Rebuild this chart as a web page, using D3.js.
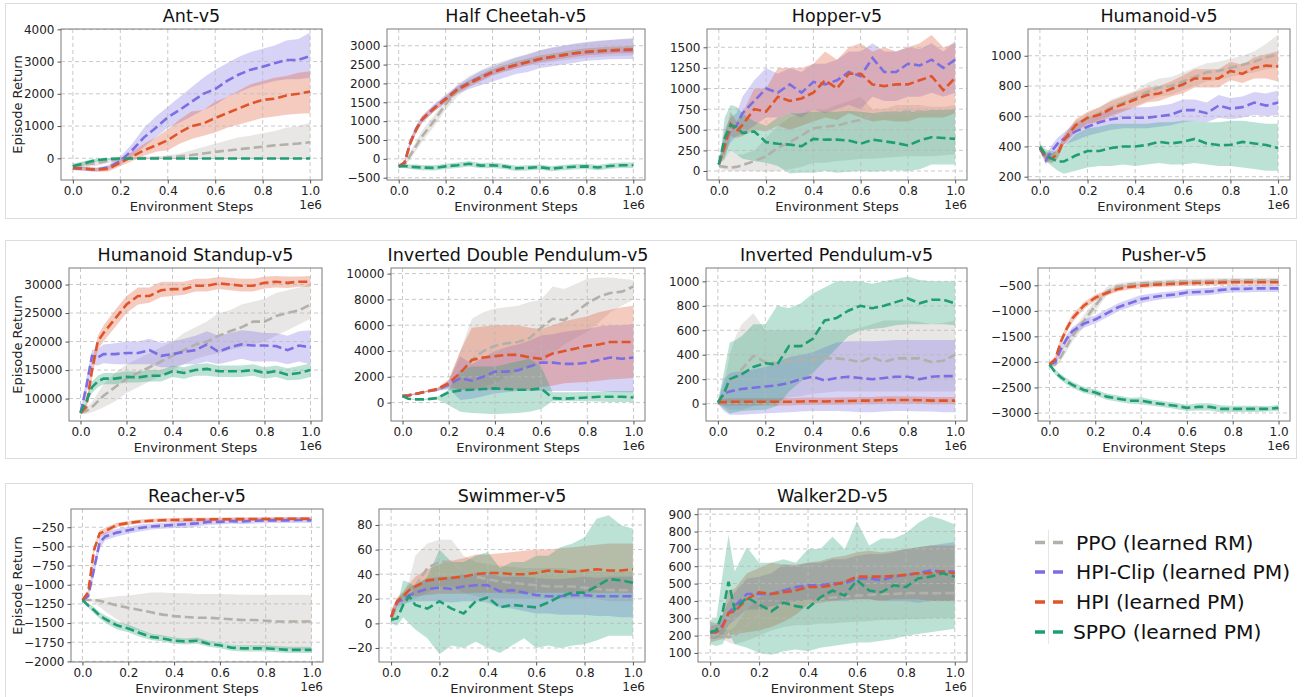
<!DOCTYPE html>
<html><head><meta charset="utf-8">
<script src="https://cdn.jsdelivr.net/npm/d3@7"></script>
<style>body{margin:0;background:#fff}svg{display:block}text{font-family:"DejaVu Sans",sans-serif}</style>
</head><body><svg id="c" width="1304" height="697"></svg>
<script>
// ---------- shared ----------
const STEPS = [0,0.025,0.05,0.075,0.1,0.15,0.2,0.25,0.3,0.35,0.4,0.45,0.5,0.55,0.6,0.65,0.7,0.75,0.8,0.85,0.9,0.95,1.0]; // x 1e6
const SERIES = ["PPO (learned RM)","HPI-Clip (learned PM)","HPI (learned PM)","SPPO (learned PM)"];
const TITLES = ["Ant-v5","Half Cheetah-v5","Hopper-v5","Humanoid-v5","Humanoid Standup-v5","Inverted Double Pendulum-v5","Inverted Pendulum-v5","Pusher-v5","Reacher-v5","Swimmer-v5","Walker2D-v5"];
const X_TICKS = [0,0.2,0.4,0.6,0.8,1.0];
const Y_TICKS = [
  [0,1000,2000,3000,4000],
  [-500,0,500,1000,1500,2000,2500,3000],
  [0,250,500,750,1000,1250,1500],
  [200,400,600,800,1000],
  [10000,15000,20000,25000,30000],
  [0,2000,4000,6000,8000,10000],
  [0,200,400,600,800,1000],
  [-3000,-2500,-2000,-1500,-1000,-500],
  [-2000,-1750,-1500,-1250,-1000,-750,-500,-250],
  [-20,0,20,40,60,80],
  [100,200,300,400,500,600,700,800,900]
];
const Y_DOMAINS = [[-673,4010],[-561,3443],[-109,1722],[178,1177],[6070,32900],[-1426,10434],[-142,1109],[-3157,-161],[-2008,-12],[-31.4,93],[48,930]];

// ---------- Ant ----------
const ant_ppo_m  = [-250,-230,-200,-170,-150,-80,-20,0,5,10,30,60,100,150,200,240,280,320,360,400,430,460,500];
const ant_ppo_lo = [-350,-320,-290,-260,-230,-150,-70,-40,-30,-30,-20,-20,-20,-20,-20,-20,-20,-20,-20,-20,-20,-20,-20];
const ant_ppo_hi = [-150,-130,-110,-90,-70,-10,30,40,50,60,90,150,250,350,450,550,650,700,780,850,950,1000,1100];
const ant_clip_m  = [-300,-320,-330,-340,-350,-280,-80,250,650,950,1270,1500,1750,2000,2150,2400,2600,2750,2840,2950,3050,3050,3170];
const ant_clip_lo = [-370,-380,-390,-400,-410,-350,-200,50,350,650,950,1100,1300,1500,1650,1900,2050,2200,2300,2400,2450,2450,2500];
const ant_clip_hi = [-230,-250,-270,-280,-290,-210,50,450,950,1300,1600,1900,2200,2500,2750,2950,3150,3300,3400,3500,3650,3700,3900];
const ant_hpi_m  = [-300,-310,-320,-340,-350,-330,-130,50,250,400,560,800,1000,1080,1250,1400,1550,1700,1810,1850,1950,2000,2070];
const ant_hpi_lo = [-360,-370,-380,-400,-420,-410,-250,-80,80,200,250,450,600,700,800,950,1050,1150,1250,1300,1350,1380,1400];
const ant_hpi_hi = [-240,-250,-260,-280,-290,-250,0,200,450,650,900,1200,1450,1500,1750,1900,2100,2300,2400,2500,2550,2650,2700];
const ant_sppo_m  = [-250,-200,-150,-100,-60,-20,-5,-5,-5,-5,-5,-5,-5,-5,-5,-5,-5,-5,-5,-5,-5,-5,-5];
const ant_sppo_lo = [-320,-270,-220,-160,-110,-50,-25,-20,-20,-20,-20,-20,-20,-20,-20,-20,-20,-20,-20,-20,-20,-20,-20];
const ant_sppo_hi = [-180,-130,-80,-40,-10,10,15,10,10,10,10,10,10,10,10,10,10,10,10,10,10,10,10];

// ---------- Half Cheetah ----------
const hc_ppo_m  = [-200,-150,100,350,600,1000,1450,1800,2050,2200,2350,2450,2550,2620,2700,2750,2800,2850,2880,2900,2920,2940,2950];
const hc_ppo_lo = [-230,-200,0,220,450,850,1300,1650,1900,2050,2200,2300,2400,2470,2530,2570,2610,2650,2680,2700,2720,2730,2740];
const hc_ppo_hi = [-170,-100,200,480,750,1150,1600,1950,2200,2350,2500,2600,2700,2780,2870,2930,2990,3040,3080,3120,3150,3180,3220];
const hc_clip_m  = [-200,-100,450,800,1050,1350,1600,1850,2020,2170,2300,2400,2490,2570,2640,2700,2750,2800,2830,2850,2870,2880,2890];
const hc_clip_lo = [-220,-150,350,700,950,1250,1500,1720,1850,1950,2050,2150,2250,2300,2400,2450,2500,2550,2600,2620,2640,2650,2650];
const hc_clip_hi = [-180,-50,550,900,1150,1450,1700,1950,2150,2330,2450,2570,2680,2770,2870,2950,3000,3060,3100,3130,3150,3170,3180];
const hc_hpi_m  = [-200,-100,430,780,1050,1330,1580,1830,2000,2150,2300,2400,2490,2570,2650,2700,2750,2800,2840,2860,2880,2890,2900];
const hc_hpi_lo = [-220,-140,350,700,970,1250,1500,1750,1920,2070,2220,2320,2400,2480,2560,2610,2660,2710,2750,2770,2790,2800,2800];
const hc_hpi_hi = [-180,-60,510,860,1130,1410,1660,1910,2080,2230,2380,2480,2580,2660,2740,2790,2840,2890,2930,2950,2970,2980,3000];
const hc_sppo_m  = [-200,-190,-210,-220,-230,-240,-200,-170,-130,-180,-170,-200,-250,-240,-220,-260,-230,-210,-200,-230,-190,-170,-170];
const hc_sppo_lo = [-240,-240,-270,-290,-300,-310,-270,-240,-200,-250,-240,-270,-320,-310,-290,-330,-300,-280,-270,-300,-260,-240,-240];
const hc_sppo_hi = [-160,-140,-150,-150,-160,-170,-130,-100,-60,-110,-100,-130,-180,-170,-150,-190,-160,-140,-130,-160,-120,-100,-100];

// ---------- Hopper ----------
const hop_ppo_m  = [60,50,40,50,70,120,180,280,350,430,520,540,550,590,620,680,700,710,720,720,720,710,720];
const hop_ppo_lo = [30,10,0,0,0,0,-10,0,20,50,100,100,120,130,150,150,160,170,180,180,180,190,200];
const hop_ppo_hi = [90,150,250,200,200,250,400,550,650,700,750,750,800,850,900,750,750,800,800,800,780,780,800];
const hop_clip_m  = [80,350,500,550,700,850,1000,950,1050,950,1080,1050,1100,1200,1150,1370,1200,1200,1300,1280,1350,1250,1350];
const hop_clip_lo = [80,200,350,420,450,550,650,650,700,650,750,700,750,800,750,900,850,850,900,900,950,900,950];
const hop_clip_hi = [80,500,650,700,900,1100,1250,1180,1250,1200,1300,1300,1350,1450,1450,1550,1450,1450,1500,1480,1550,1450,1580];
const hop_hpi_m  = [80,300,570,480,560,750,720,900,850,880,950,1100,1000,1180,1180,1050,1030,1050,1050,1100,1150,980,1130];
const hop_hpi_lo = [80,150,420,400,420,500,480,550,500,550,600,650,620,700,650,600,620,600,600,650,650,650,700];
const hop_hpi_hi = [80,450,720,600,700,1000,1000,1250,1250,1250,1300,1450,1350,1500,1550,1450,1500,1450,1500,1550,1650,1500,1550];
const hop_sppo_m  = [80,400,560,530,460,480,350,330,320,300,390,380,380,370,330,380,360,340,310,370,410,400,390];
const hop_sppo_lo = [80,150,250,200,150,120,100,60,-30,-20,-20,0,-20,-10,0,-10,0,10,0,20,80,80,80];
const hop_sppo_hi = [80,650,800,780,700,600,550,650,700,700,720,720,720,730,720,700,720,720,720,720,740,740,750];

// ---------- Humanoid ----------
const hum_ppo_m  = [390,340,320,360,440,530,580,620,660,690,720,760,790,800,830,860,890,900,920,940,960,990,1010];
const hum_ppo_lo = [370,310,290,330,410,490,540,580,610,640,670,700,730,740,770,800,830,840,860,880,890,910,920];
const hum_ppo_hi = [410,370,350,390,470,570,620,660,710,740,770,820,850,860,890,920,950,960,980,1000,1030,1080,1140];
const hum_clip_m  = [390,310,370,420,450,500,530,560,580,590,590,590,600,610,640,640,620,670,650,660,690,670,690];
const hum_clip_lo = [370,280,330,380,410,440,470,490,510,520,520,520,530,540,560,570,560,590,580,590,610,600,610];
const hum_clip_hi = [410,340,410,460,490,560,590,620,640,650,660,660,670,680,710,710,690,740,720,730,760,750,770];
const hum_hpi_m  = [390,330,320,350,440,540,590,610,650,680,710,740,750,780,810,850,850,850,900,880,920,935,930];
const hum_hpi_lo = [370,300,290,320,410,500,550,560,600,630,660,690,700,730,750,790,790,790,840,820,850,850,830];
const hum_hpi_hi = [410,360,350,380,470,580,630,660,700,730,760,790,800,830,870,910,910,910,960,940,990,1010,1030];
const hum_sppo_m  = [400,340,320,300,300,340,370,370,390,400,400,410,430,420,430,450,420,410,410,430,420,410,390];
const hum_sppo_lo = [380,300,270,240,220,240,260,270,270,280,270,280,290,280,280,290,280,270,270,260,250,240,240];
const hum_sppo_hi = [420,380,370,360,400,480,520,530,550,550,550,550,560,560,570,570,560,560,570,570,560,550,550];

// ---------- Humanoid Standup ----------
const hs_ppo_m  = [7500,7800,8500,9500,10500,12000,13500,14500,15500,16500,17500,18500,19500,20000,21000,21800,22500,23500,23500,24500,25000,25500,26500];
const hs_ppo_lo = [7200,7300,7600,8000,8500,9500,11000,12000,13000,14000,15000,16000,17000,17500,18000,18500,19000,19500,20000,21000,22000,23000,24000];
const hs_ppo_hi = [7800,8300,9400,11000,12500,14500,16000,17000,18000,19000,20000,21500,22500,23500,25000,25500,26500,27000,27500,28500,29000,29500,30000];
const hs_clip_m  = [7500,12000,17500,17200,17800,17800,18000,18000,18500,17500,17800,18200,18500,19500,18200,19000,19500,19300,19300,19200,18500,19300,19000];
const hs_clip_lo = [7300,10500,16000,15800,16200,16000,16000,16000,16000,15500,15500,16000,16000,16500,16000,16500,17000,16500,16500,16500,16000,16500,16000];
const hs_clip_hi = [7700,13500,18500,18700,19500,19700,20000,20000,20500,19800,20000,20500,21000,21800,21000,21500,22000,21800,21500,21500,21000,21800,22000];
const hs_hpi_m  = [7500,8500,15000,20000,21500,24000,26500,28000,28000,29000,29200,29200,29800,29800,30200,30000,29800,29800,30300,30500,30300,30500,30500];
const hs_hpi_lo = [7300,8000,13500,18500,20000,22500,25000,26500,26800,27800,28000,28200,28800,28800,29200,29000,28800,28800,29300,29500,29400,29600,29600];
const hs_hpi_hi = [7700,9000,16500,21000,22800,25500,28000,29500,29500,30500,30500,30500,31000,31000,31300,31200,31000,31000,31400,31500,31400,31400,31500];
const hs_sppo_m  = [7500,9500,12000,13000,13500,13500,13800,13700,14000,14000,14800,14500,15000,15200,14800,14800,14800,15000,14500,14800,14200,14500,15000];
const hs_sppo_lo = [7300,8800,11000,12000,12500,12500,12800,12800,13000,13000,13800,13500,14000,14000,13800,13800,13800,14000,13500,13800,13200,13300,13800];
const hs_sppo_hi = [7700,10200,13000,14000,14500,14500,14800,14700,15000,15000,15800,15500,16000,16200,15800,15800,15800,16000,15500,15800,15300,15700,16200];

// ---------- Inverted Double Pendulum ----------
const idp_ppo_m  = [500,560,650,750,850,1000,1300,2200,3300,4000,4400,4600,4700,5000,5800,6500,6400,7000,7700,8200,8500,8600,9000];
const idp_ppo_lo = [450,520,600,700,800,900,1000,1000,1000,1200,1500,2000,2500,2800,3000,3800,4500,5000,5500,6200,7000,7500,8000];
const idp_ppo_hi = [550,600,700,800,900,1100,1600,4000,6500,7000,7300,7400,7500,7800,8000,9000,8800,9200,9600,9700,9700,9600,9500];
const idp_clip_m  = [500,560,650,750,850,1000,1400,1900,1700,2000,2400,2400,2500,2800,3100,3100,3000,3000,3100,3300,3500,3400,3500];
const idp_clip_lo = [450,520,600,700,800,900,1100,200,300,500,700,800,900,900,900,900,900,900,900,900,850,800,800];
const idp_clip_hi = [550,600,700,800,900,1100,1700,3600,3000,3500,4000,4300,4500,4800,5200,5300,5500,5600,5700,5900,6000,6000,6100];
const idp_hpi_m  = [500,550,650,750,850,1050,1500,2300,3300,3500,3600,3700,3700,3500,3400,3800,4000,4200,4400,4500,4700,4700,4700];
const idp_hpi_lo = [450,510,600,700,800,950,1200,1000,1000,1000,1000,1000,1000,1000,1200,1300,1500,1550,1600,1700,1800,1850,1900];
const idp_hpi_hi = [550,590,700,800,900,1150,1800,4000,5800,5900,6000,6000,6000,5800,5700,6000,6300,6500,6700,7000,7200,7400,7500];
const idp_sppo_m  = [500,300,250,250,250,350,800,950,1000,1050,1100,1050,1000,1000,1100,350,300,350,400,450,450,450,400];
const idp_sppo_lo = [450,250,200,200,200,250,-200,-700,-800,-850,-900,-850,-800,-700,-500,100,100,100,100,80,50,50,50];
const idp_sppo_hi = [550,350,300,300,300,450,1000,2500,2800,2800,2800,3000,3200,3400,2800,800,800,800,850,870,900,900,900];

// ---------- Inverted Pendulum ----------
const ip_ppo_m  = [10,60,150,220,280,390,340,330,350,360,360,370,370,360,340,380,340,370,370,370,340,350,400];
const ip_ppo_lo = [0,-20,-50,-50,-50,-20,0,20,50,60,80,90,100,100,100,100,100,100,100,100,100,100,100];
const ip_ppo_hi = [20,150,400,550,650,740,600,600,600,600,600,600,600,600,620,650,680,680,680,670,650,660,680];
const ip_clip_m  = [10,80,100,110,120,130,140,150,170,200,220,190,210,220,210,200,210,220,220,200,220,225,225];
const ip_clip_lo = [0,-60,-90,-90,-90,-85,-80,-75,-70,-65,-60,-60,-60,-65,-70,-70,-65,-60,-60,-65,-65,-70,-70];
const ip_clip_hi = [20,200,250,260,260,280,300,340,380,400,420,460,500,510,510,510,515,520,520,520,520,520,520];
const ip_hpi_m  = [10,12,15,15,15,15,15,15,15,18,20,18,20,22,25,25,30,30,30,28,25,25,25];
const ip_hpi_lo = [-10,-15,-15,-15,-15,-15,-15,-15,-15,-12,-10,-10,-10,-8,-5,-5,0,0,0,0,-5,-5,-5];
const ip_hpi_hi = [30,40,45,45,45,45,45,45,45,48,50,48,50,52,55,55,60,60,60,58,55,55,55];
const ip_sppo_m  = [10,80,200,220,240,300,330,320,470,470,530,680,700,760,800,780,800,830,860,820,850,850,820];
const ip_sppo_lo = [0,-40,-80,-70,-60,-55,-50,-20,100,180,250,350,450,550,600,610,620,640,650,650,650,650,640];
const ip_sppo_hi = [20,250,500,520,550,650,650,800,780,820,900,950,1000,1000,1000,980,1000,1020,1040,1010,1000,1000,1000];

// ---------- Pusher ----------
const pu_ppo_m  = [-2050,-2050,-1900,-1700,-1500,-1200,-900,-620,-520,-480,-460,-450,-440,-430,-425,-420,-415,-410,-405,-405,-400,-400,-400];
const pu_ppo_lo = [-2100,-2100,-1980,-1800,-1600,-1320,-1010,-700,-580,-530,-510,-500,-490,-480,-475,-470,-465,-460,-455,-455,-450,-450,-450];
const pu_ppo_hi = [-2000,-2000,-1820,-1600,-1400,-1080,-790,-540,-460,-430,-410,-400,-390,-380,-375,-370,-365,-360,-355,-355,-350,-350,-350];
const pu_clip_m  = [-2050,-2000,-1750,-1550,-1400,-1250,-1170,-1050,-930,-850,-770,-730,-700,-680,-640,-630,-620,-590,-570,-570,-560,-560,-560];
const pu_clip_lo = [-2100,-2060,-1830,-1630,-1480,-1330,-1250,-1130,-1010,-930,-850,-800,-770,-750,-710,-700,-690,-660,-640,-640,-630,-630,-630];
const pu_clip_hi = [-2000,-1940,-1670,-1470,-1320,-1170,-1090,-970,-850,-770,-690,-660,-630,-610,-570,-560,-550,-520,-500,-500,-490,-490,-490];
const pu_hpi_m  = [-2050,-1950,-1600,-1350,-1150,-900,-740,-650,-570,-530,-510,-490,-480,-470,-460,-455,-450,-445,-440,-440,-440,-440,-440];
const pu_hpi_lo = [-2100,-2010,-1680,-1430,-1230,-970,-800,-700,-620,-580,-560,-540,-530,-520,-510,-505,-500,-495,-490,-490,-490,-490,-490];
const pu_hpi_hi = [-2000,-1890,-1520,-1270,-1070,-830,-680,-600,-520,-480,-460,-440,-430,-420,-410,-405,-400,-395,-390,-390,-390,-390,-390];
const pu_sppo_m  = [-2050,-2200,-2300,-2380,-2450,-2550,-2600,-2680,-2720,-2760,-2760,-2800,-2830,-2860,-2900,-2880,-2880,-2920,-2920,-2920,-2920,-2920,-2900];
const pu_sppo_lo = [-2080,-2250,-2360,-2440,-2510,-2610,-2660,-2740,-2780,-2820,-2830,-2860,-2890,-2920,-2960,-2950,-2950,-2990,-2980,-2980,-2980,-2970,-2960];
const pu_sppo_hi = [-2020,-2150,-2240,-2320,-2390,-2490,-2540,-2620,-2660,-2700,-2690,-2740,-2770,-2800,-2840,-2810,-2810,-2850,-2860,-2860,-2860,-2870,-2840];

// ---------- Reacher ----------
const re_ppo_m  = [-1200,-1200,-1200,-1210,-1230,-1270,-1300,-1330,-1360,-1390,-1410,-1420,-1430,-1430,-1440,-1450,-1460,-1460,-1470,-1480,-1480,-1480,-1480];
const re_ppo_lo = [-1200,-1210,-1230,-1290,-1350,-1450,-1550,-1600,-1650,-1680,-1700,-1720,-1730,-1740,-1750,-1780,-1800,-1810,-1830,-1840,-1840,-1850,-1850];
const re_ppo_hi = [-1200,-1190,-1185,-1180,-1170,-1150,-1140,-1120,-1100,-1100,-1110,-1110,-1120,-1120,-1120,-1125,-1130,-1130,-1130,-1130,-1130,-1130,-1130];
const re_clip_m  = [-1200,-1150,-800,-450,-370,-320,-290,-260,-240,-230,-220,-210,-200,-180,-180,-170,-175,-165,-160,-160,-160,-155,-160];
const re_clip_lo = [-1200,-1180,-880,-530,-420,-370,-335,-305,-280,-270,-260,-260,-240,-220,-215,-205,-210,-200,-195,-195,-195,-190,-195];
const re_clip_hi = [-1200,-1120,-720,-370,-320,-270,-245,-215,-200,-190,-180,-160,-160,-140,-145,-135,-140,-130,-125,-125,-125,-120,-125];
const re_hpi_m  = [-1200,-1100,-550,-330,-300,-220,-195,-175,-165,-158,-155,-152,-150,-148,-146,-145,-144,-143,-142,-141,-140,-140,-138];
const re_hpi_lo = [-1200,-1130,-600,-370,-340,-250,-220,-200,-190,-183,-180,-177,-175,-172,-170,-169,-168,-167,-166,-165,-164,-163,-162];
const re_hpi_hi = [-1200,-1070,-500,-290,-260,-190,-170,-150,-140,-133,-130,-127,-125,-124,-122,-121,-120,-119,-118,-117,-116,-116,-114];
const re_sppo_m  = [-1200,-1270,-1330,-1400,-1450,-1530,-1570,-1630,-1680,-1700,-1730,-1740,-1730,-1770,-1790,-1820,-1830,-1830,-1830,-1840,-1850,-1850,-1850];
const re_sppo_lo = [-1200,-1300,-1370,-1440,-1500,-1580,-1620,-1680,-1720,-1740,-1770,-1780,-1770,-1810,-1830,-1860,-1870,-1870,-1870,-1880,-1890,-1890,-1890];
const re_sppo_hi = [-1200,-1240,-1290,-1360,-1400,-1480,-1520,-1580,-1640,-1660,-1690,-1700,-1690,-1730,-1750,-1780,-1790,-1790,-1790,-1800,-1810,-1810,-1810];

// ---------- Swimmer ----------
const sw_ppo_m  = [5,15,20,25,30,45,50,50,42,38,36,34,33,32,31,30,30,30,29,28,27,27,27];
const sw_ppo_lo = [0,10,15,18,20,25,30,30,25,22,20,20,20,20,20,20,20,20,20,20,18,18,18];
const sw_ppo_hi = [10,20,25,35,55,65,68,68,55,50,48,47,46,45,45,45,45,44,43,42,42,42,42];
const sw_clip_m  = [5,17,20,23,25,28,29,28,30,31,31,26,27,25,23,22,22,23,23,22,22,22,22];
const sw_clip_lo = [0,14,16,17,18,18,18,17,18,18,17,13,12,10,8,8,7,7,7,6,6,5,5];
const sw_clip_hi = [10,20,24,29,32,36,38,38,40,41,42,38,38,38,37,36,36,37,38,37,38,38,38];
const sw_hpi_m  = [5,18,22,27,30,35,36,37,38,40,41,41,40,40,41,43,42,42,43,44,43,43,44];
const sw_hpi_lo = [0,15,18,22,22,23,24,24,24,25,25,25,24,24,25,25,25,25,25,25,25,25,25];
const sw_hpi_hi = [10,21,26,32,38,44,48,51,53,56,56,57,58,59,60,60,61,62,63,64,65,65,65];
const sw_sppo_m  = [3,4,15,22,15,12,18,12,8,18,21,13,15,14,13,17,22,25,25,30,36,35,33];
const sw_sppo_lo = [0,-2,5,0,-5,-12,-25,-18,-20,-15,-20,-24,-18,-12,-20,-18,-20,-18,-17,-14,-10,-10,-10];
const sw_sppo_hi = [6,15,35,33,30,38,60,50,50,55,58,45,50,50,55,55,62,65,70,85,88,80,77];

// ---------- Walker2D ----------
const wk_ppo_m  = [220,210,200,190,200,260,330,360,380,390,400,410,420,425,430,435,440,440,445,445,445,445,445];
const wk_ppo_lo = [220,200,180,160,150,170,200,230,250,260,260,270,270,275,280,285,290,290,295,295,300,300,300];
const wk_ppo_hi = [230,240,240,230,250,350,420,450,470,480,490,500,510,520,530,540,550,550,560,560,560,560,560];
const wk_clip_m  = [220,220,260,330,370,440,440,440,460,480,490,490,500,500,530,530,520,540,550,560,575,570,570];
const wk_clip_lo = [180,180,200,260,290,350,350,370,380,400,400,400,400,400,410,410,400,400,400,390,400,400,400];
const wk_clip_hi = [260,260,320,400,450,530,540,560,610,600,620,620,640,640,660,670,670,680,700,710,720,730,740];
const wk_hpi_m  = [220,220,250,330,340,410,450,440,450,460,480,480,490,510,540,540,540,545,550,560,560,570,560];
const wk_hpi_lo = [160,170,180,200,210,220,230,250,280,320,380,390,400,410,410,410,400,410,410,410,400,400,400];
const wk_hpi_hi = [280,270,320,460,470,560,590,620,610,610,620,630,650,660,680,690,680,690,700,710,720,720,720];
const wk_sppo_m  = [220,230,330,510,350,420,380,340,390,370,360,420,460,430,520,460,450,490,480,530,540,560,540];
const wk_sppo_lo = [150,140,150,220,150,130,100,90,110,120,110,130,140,150,160,160,170,180,200,210,220,230,240];
const wk_sppo_hi = [290,300,550,780,570,710,620,620,640,620,700,700,770,700,860,720,760,760,790,850,890,870,840];

// ---------- assemble ----------
const PANEL_DATA = [
  [[ant_ppo_m,ant_ppo_lo,ant_ppo_hi],[ant_clip_m,ant_clip_lo,ant_clip_hi],[ant_hpi_m,ant_hpi_lo,ant_hpi_hi],[ant_sppo_m,ant_sppo_lo,ant_sppo_hi]],
  [[hc_ppo_m,hc_ppo_lo,hc_ppo_hi],[hc_clip_m,hc_clip_lo,hc_clip_hi],[hc_hpi_m,hc_hpi_lo,hc_hpi_hi],[hc_sppo_m,hc_sppo_lo,hc_sppo_hi]],
  [[hop_ppo_m,hop_ppo_lo,hop_ppo_hi],[hop_clip_m,hop_clip_lo,hop_clip_hi],[hop_hpi_m,hop_hpi_lo,hop_hpi_hi],[hop_sppo_m,hop_sppo_lo,hop_sppo_hi]],
  [[hum_ppo_m,hum_ppo_lo,hum_ppo_hi],[hum_clip_m,hum_clip_lo,hum_clip_hi],[hum_hpi_m,hum_hpi_lo,hum_hpi_hi],[hum_sppo_m,hum_sppo_lo,hum_sppo_hi]],
  [[hs_ppo_m,hs_ppo_lo,hs_ppo_hi],[hs_clip_m,hs_clip_lo,hs_clip_hi],[hs_hpi_m,hs_hpi_lo,hs_hpi_hi],[hs_sppo_m,hs_sppo_lo,hs_sppo_hi]],
  [[idp_ppo_m,idp_ppo_lo,idp_ppo_hi],[idp_clip_m,idp_clip_lo,idp_clip_hi],[idp_hpi_m,idp_hpi_lo,idp_hpi_hi],[idp_sppo_m,idp_sppo_lo,idp_sppo_hi]],
  [[ip_ppo_m,ip_ppo_lo,ip_ppo_hi],[ip_clip_m,ip_clip_lo,ip_clip_hi],[ip_hpi_m,ip_hpi_lo,ip_hpi_hi],[ip_sppo_m,ip_sppo_lo,ip_sppo_hi]],
  [[pu_ppo_m,pu_ppo_lo,pu_ppo_hi],[pu_clip_m,pu_clip_lo,pu_clip_hi],[pu_hpi_m,pu_hpi_lo,pu_hpi_hi],[pu_sppo_m,pu_sppo_lo,pu_sppo_hi]],
  [[re_ppo_m,re_ppo_lo,re_ppo_hi],[re_clip_m,re_clip_lo,re_clip_hi],[re_hpi_m,re_hpi_lo,re_hpi_hi],[re_sppo_m,re_sppo_lo,re_sppo_hi]],
  [[sw_ppo_m,sw_ppo_lo,sw_ppo_hi],[sw_clip_m,sw_clip_lo,sw_clip_hi],[sw_hpi_m,sw_hpi_lo,sw_hpi_hi],[sw_sppo_m,sw_sppo_lo,sw_sppo_hi]],
  [[wk_ppo_m,wk_ppo_lo,wk_ppo_hi],[wk_clip_m,wk_clip_lo,wk_clip_hi],[wk_hpi_m,wk_hpi_lo,wk_hpi_hi],[wk_sppo_m,wk_sppo_lo,wk_sppo_hi]]
];

// ---------- layout & style ----------
const COLORS = ["#b2b0a8","#7b6ee4","#e0542a","#1f9e74"];
const LAYOUT = [
  {l:61,r:322,t:29,b:180},{l:387,r:645,t:29,b:180},{l:707,r:967,t:29,b:180},{l:1028,r:1290,t:29,b:180},
  {l:69,r:322,t:268,b:421},{l:391,r:645,t:268,b:421},{l:706,r:967,t:268,b:421},{l:1038,r:1290,t:268,b:421},
  {l:71,r:323,t:509,b:662},{l:379,r:645,t:509,b:662},{l:698,r:967,t:509,b:662}
];
const ROW_BOXES = [{x:5,y:3,w:1291,h:215},{x:5,y:240,w:1291,h:218},{x:5,y:483,w:967,h:216}];
const YLABEL_PANELS = [0,4,8];

const svg = d3.select("#c");
svg.append("rect").attr("width",1304).attr("height",697).attr("fill","#fff");
ROW_BOXES.forEach(b => svg.append("rect").attr("x",b.x+0.5).attr("y",b.y+0.5).attr("width",b.w).attr("height",b.h)
  .attr("fill","none").attr("stroke","#dcdcdc").attr("stroke-width",1));

const fmtX = d3.format(".1f"), fmtY = d3.format("d");

LAYOUT.forEach((L, i) => {
  const x = d3.scaleLinear().domain([-0.05,1.05]).range([L.l,L.r]);
  const y = d3.scaleLinear().domain(Y_DOMAINS[i]).range([L.b,L.t]);
  const g = svg.append("g");
  const cid = "clip"+i;
  g.append("clipPath").attr("id",cid).append("rect").attr("x",L.l).attr("y",L.t).attr("width",L.r-L.l).attr("height",L.b-L.t);

  const plot = g.append("g").attr("clip-path","url(#"+cid+")");
  const area = d3.area().x((d,k)=>x(STEPS[k])).y0(d=>y(d[0])).y1(d=>y(d[1]));
  const line = d3.line().x((d,k)=>x(STEPS[k])).y(d=>y(d));
  // bands (bottom layer)
  PANEL_DATA[i].forEach((s, j) => {
    const pts = s[1].map((v,k)=>[v, s[2][k]]);
    plot.append("path").attr("d",area(pts)).attr("fill",COLORS[j]).attr("fill-opacity",0.3).attr("stroke","none");
  });
  // grid (between bands and lines)
  const grid = plot.append("g").attr("stroke","#b8b8b8").attr("stroke-width",0.9).attr("stroke-dasharray","4,3").attr("stroke-opacity",0.85);
  X_TICKS.forEach(t => grid.append("line").attr("x1",x(t)).attr("x2",x(t)).attr("y1",L.t).attr("y2",L.b));
  Y_TICKS[i].forEach(t => grid.append("line").attr("x1",L.l).attr("x2",L.r).attr("y1",y(t)).attr("y2",y(t)));
  // mean lines
  PANEL_DATA[i].forEach((s, j) => {
    plot.append("path").attr("d",line(s[0])).attr("fill","none").attr("stroke",COLORS[j])
      .attr("stroke-width",2.6).attr("stroke-dasharray","9,4");
  });

  // frame
  g.append("rect").attr("x",L.l).attr("y",L.t).attr("width",L.r-L.l).attr("height",L.b-L.t)
    .attr("fill","none").attr("stroke","#7a7a7a").attr("stroke-width",1);

  // x axis
  const xa = g.append("g").attr("transform",`translate(0,${L.b})`)
    .call(d3.axisBottom(x).tickValues(X_TICKS).tickFormat(fmtX).tickSize(3.5).tickPadding(3));
  xa.select(".domain").remove();
  xa.selectAll("line").attr("stroke","#555");
  xa.selectAll("text").attr("font-size",12).attr("fill","#222").attr("font-family","DejaVu Sans");
  // y axis
  const ya = g.append("g").attr("transform",`translate(${L.l},0)`)
    .call(d3.axisLeft(y).tickValues(Y_TICKS[i]).tickFormat(fmtY).tickSize(3.5).tickPadding(3));
  ya.select(".domain").remove();
  ya.selectAll("line").attr("stroke","#555");
  ya.selectAll("text").attr("font-size",12).attr("fill","#222").attr("font-family","DejaVu Sans");

  const cx = (L.l+L.r)/2;
  g.append("text").attr("x",cx).attr("y",L.t-7.5).attr("text-anchor","middle").attr("font-size",17.5).attr("fill","#111").text(TITLES[i]);
  g.append("text").attr("x",cx).attr("y",L.b+30.5).attr("text-anchor","middle").attr("font-size",13).attr("fill","#222").text("Environment Steps");
  g.append("text").attr("x",L.r).attr("y",L.b+28.5).attr("text-anchor","end").attr("font-size",12).attr("fill","#222").text("1e6");
  if (YLABEL_PANELS.includes(i)) {
    const cy = (L.t+L.b)/2;
    g.append("text").attr("transform",`translate(21.5,${cy}) rotate(-90)`).attr("text-anchor","middle")
      .attr("font-size",13).attr("fill","#222").text("Episode Return");
  }
});

// legend
const lg = svg.append("g");
lg.append("line").attr("x1",1048.5).attr("x2",1048.5).attr("y1",530).attr("y2",644).attr("stroke","#e6e6e6").attr("stroke-width",1);
const LEG_Y = [542.5,572,602,632];
const LEG_X = [1076,1076,1076,1073];
SERIES.forEach((name, j) => {
  lg.append("line").attr("x1",1035).attr("x2",1064).attr("y1",LEG_Y[j]).attr("y2",LEG_Y[j])
    .attr("stroke",COLORS[j]).attr("stroke-width",3.6).attr("stroke-dasharray","10,8");
  lg.append("text").attr("x",LEG_X[j]).attr("y",LEG_Y[j]+7.3).attr("font-size",20.3).attr("fill","#111").text(name);
});
</script></body></html>
